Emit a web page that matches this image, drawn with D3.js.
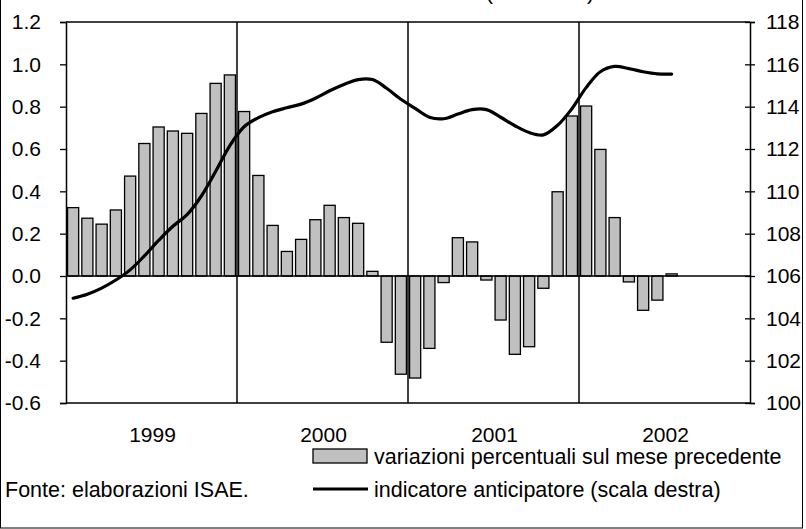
<!DOCTYPE html>
<html>
<head>
<meta charset="utf-8">
<script src="https://cdn.jsdelivr.net/npm/d3@7"></script>
<style>
  html, body { margin: 0; padding: 0; background: #fff; }
  svg { display: block; }
  text { font-family: "Liberation Sans", Arial, sans-serif; fill: #000; }
</style>
</head>
<body>
<svg id="chart" width="806" height="529"></svg>
<script>
// ---- data ----
const years = ["1999", "2000", "2001", "2002"];
const monthNames = ["gen","feb","mar","apr","mag","giu","lug","ago","set","ott","nov","dic"];
// monthly percentage changes (left scale), Jan 1999 - Jul 2002
const barValues = [
  0.323, 0.273, 0.245, 0.312, 0.472, 0.626, 0.704, 0.685, 0.674, 0.768, 0.910, 0.950,
  0.777, 0.475, 0.239, 0.116, 0.173, 0.266, 0.334, 0.276, 0.249, 0.022, -0.313, -0.464,
  -0.482, -0.342, -0.031, 0.181, 0.161, -0.019, -0.208, -0.370, -0.334, -0.058, 0.398, 0.756,
  0.803, 0.598, 0.276, -0.028, -0.162, -0.114, 0.010
];
// leading indicator (right scale), Jan 1999 - Jul 2002
const lineValues = [
  104.95, 105.14, 105.43, 105.81, 106.29, 106.95, 107.68, 108.35, 108.90, 109.78, 110.94, 112.16,
  113.05, 113.48, 113.76, 113.95, 114.12, 114.40, 114.75, 115.05, 115.28, 115.28, 114.87, 114.35,
  113.92, 113.50, 113.43, 113.65, 113.86, 113.86, 113.50, 113.10, 112.78, 112.67, 113.12, 113.90,
  114.90, 115.65, 115.90, 115.80, 115.65, 115.55, 115.54
];
const leftTicks = [-0.6, -0.4, -0.2, 0.0, 0.2, 0.4, 0.6, 0.8, 1.0, 1.2];
const rightTicks = [100, 102, 104, 106, 108, 110, 112, 114, 116, 118];
const legendLabels = ["variazioni percentuali sul mese precedente", "indicatore anticipatore (scala destra)"];
const sourceNote = "Fonte: elaborazioni ISAE.";
const titleFragment = "(1995=100)";

// ---- layout ----
const L = 66, R = 750, T = 22, B = 403;
const svg = d3.select("#chart");

const months = [];
years.forEach(y => monthNames.forEach(m => months.push(y + "-" + m)));

const x = d3.scaleBand().domain(months).range([L, R]).paddingInner(0.22).paddingOuter(0.11);
const step = x.step();
const yL = d3.scaleLinear().domain([-0.6, 1.2]).range([B, T]);
const yR = d3.scaleLinear().domain([100, 118]).range([B, T]);

// outer frame
svg.append("rect").attr("x", 0.5).attr("y", -5).attr("width", 802).attr("height", 533)
  .attr("fill", "none").attr("stroke", "#000").attr("stroke-width", 1);

// cut-off title fragment (only the bottom of the parentheses shows)
svg.append("text").attr("x", 540).attr("y", 0).attr("text-anchor", "middle")
  .attr("font-size", 21).text(titleFragment);

// bars
svg.append("g").selectAll("rect").data(barValues).join("rect")
  .attr("x", (d, i) => x(months[i]))
  .attr("width", x.bandwidth())
  .attr("y", d => Math.min(yL(d), yL(0)))
  .attr("height", d => Math.abs(yL(d) - yL(0)))
  .attr("fill", "#c0c0c0").attr("stroke", "#000").attr("stroke-width", 1.3);

// zero line
svg.append("line").attr("x1", L).attr("x2", R).attr("y1", yL(0)).attr("y2", yL(0))
  .attr("stroke", "#000").attr("stroke-width", 1.3);

// year dividers
years.slice(1).forEach(yr => {
  const xx = x(yr + "-gen") - (step - x.bandwidth()) / 2;
  svg.append("line").attr("x1", xx).attr("x2", xx).attr("y1", T).attr("y2", B)
    .attr("stroke", "#000").attr("stroke-width", 1.5);
});

// plot box top / bottom
svg.append("line").attr("x1", L).attr("x2", R).attr("y1", T).attr("y2", T).attr("stroke", "#000").attr("stroke-width", 1.3);
svg.append("line").attr("x1", L).attr("x2", R).attr("y1", B).attr("y2", B).attr("stroke", "#000").attr("stroke-width", 1.3);

// line
const line = d3.line()
  .x((d, i) => x(months[i]) + x.bandwidth() / 2)
  .y(d => yR(d))
  .curve(d3.curveCatmullRom.alpha(0.5));
svg.append("path").datum(lineValues).attr("d", line)
  .attr("fill", "none").attr("stroke", "#000").attr("stroke-width", 3.2)
  .attr("stroke-linejoin", "round").attr("stroke-linecap", "round");

// left axis
const axL = svg.append("g").attr("transform", `translate(${L},0)`)
  .call(d3.axisLeft(yL).tickValues(leftTicks).tickSize(6).tickPadding(19)
    .tickFormat(d => (Math.abs(d) < 1e-9 ? 0 : d).toFixed(1)));
axL.select(".domain").attr("stroke", "#000").attr("stroke-width", 1.5);
axL.selectAll(".tick line").attr("stroke", "#000").attr("stroke-width", 1.3);
axL.selectAll(".tick text").attr("font-size", 21).attr("font-family", "Liberation Sans, Arial, sans-serif");

// right axis
const axR = svg.append("g").attr("transform", `translate(${R},0)`)
  .call(d3.axisRight(yR).tickValues(rightTicks).tickSize(5).tickPadding(11));
axR.select(".domain").attr("stroke", "#000").attr("stroke-width", 1.5);
axR.selectAll(".tick line").attr("x1", -5).attr("stroke", "#000").attr("stroke-width", 1.3);
axR.selectAll(".tick text").attr("font-size", 21).attr("font-family", "Liberation Sans, Arial, sans-serif");

// year labels
svg.append("g").selectAll("text").data(years).join("text")
  .attr("x", yr => x(yr + "-gen") - (step - x.bandwidth()) / 2 + step * 6 + 1)
  .attr("y", 442).attr("text-anchor", "middle").attr("font-size", 21).text(d => d);

// legend
const lg = svg.append("g");
lg.append("rect").attr("x", 313).attr("y", 449).attr("width", 54).attr("height", 14)
  .attr("fill", "#c0c0c0").attr("stroke", "#000").attr("stroke-width", 1.3);
lg.append("text").attr("x", 374).attr("y", 464).attr("font-size", 21.5).text(legendLabels[0]);
lg.append("line").attr("x1", 313).attr("x2", 368).attr("y1", 489).attr("y2", 489)
  .attr("stroke", "#000").attr("stroke-width", 3.2);
lg.append("text").attr("x", 374).attr("y", 497).attr("font-size", 21.5).text(legendLabels[1]);

svg.append("text").attr("x", 5).attr("y", 497).attr("font-size", 21.5).text(sourceNote);
</script>
</body>
</html>
